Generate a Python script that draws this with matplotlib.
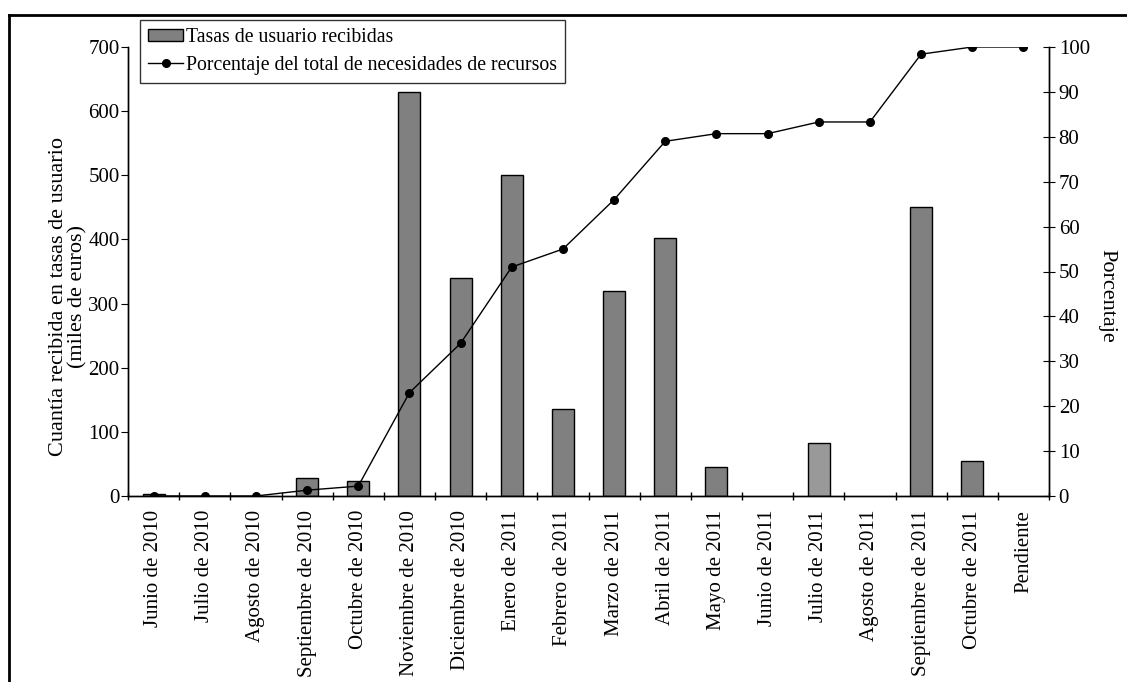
import numpy as np
import matplotlib.pyplot as plt
from matplotlib.lines import Line2D

plt.rcParams['font.family'] = ['Liberation Serif', 'DejaVu Serif']

# data
months = ["Junio de 2010", "Julio de 2010", "Agosto de 2010", "Septiembre de 2010",
          "Octubre de 2010", "Noviembre de 2010", "Diciembre de 2010", "Enero de 2011",
          "Febrero de 2011", "Marzo de 2011", "Abril de 2011", "Mayo de 2011",
          "Junio de 2011", "Julio de 2011", "Agosto de 2011", "Septiembre de 2011",
          "Octubre de 2011", "Pendiente"]
fees = [3, 0, 0, 28, 24, 630, 340, 500, 135, 320, 403, 45, 0, 83, 0, 450, 54, 0]
percent = [0, 0, 0, 1.3, 2.2, 23, 34, 51, 55, 66, 79, 80.7, 80.7, 83.3, 83.3, 98.4, 100, 100]

x = np.arange(len(months))
bar_colors = ['#808080'] * len(months)
bar_colors[13] = '#999999'  # julio 2011 is lighter
edge_w = [1.0 if v > 0 else 0 for v in fees]

fig = plt.figure(figsize=(11.27, 6.82), dpi=100)
ax = fig.add_axes([128 / 1127, 1 - 496 / 682, (1049 - 128) / 1127, (496 - 47) / 682])
ax2 = ax.twinx()

bars = ax.bar(x, fees, width=0.43, color=bar_colors, edgecolor='black', linewidth=edge_w,
              label='Tasas de usuario recibidas', zorder=2)
line, = ax2.plot(x, percent, color='black', marker='o', markersize=5.5, linewidth=1.0,
                 label='Porcentaje del total de necesidades de recursos', zorder=3)

ax.set_xlim(-0.5, len(months) - 0.5)
ax.set_ylim(0, 700)
ax2.set_ylim(0, 100 * (496 - 47) / (496 - 46))

ax.set_yticks(np.arange(0, 701, 100))
ax2.set_yticks(np.arange(0, 101, 10))

ax.set_xticks(x)
ax.set_xticklabels(months, rotation=90, fontsize=15)
ax.set_xticks(np.arange(-0.5, len(months), 1), minor=True)
ax.tick_params(axis='x', which='major', length=0, pad=10)
ax.tick_params(axis='x', which='minor', length=6, direction='inout', width=1)
ax.tick_params(axis='y', labelsize=15, length=5, direction='out', pad=1)
ax2.tick_params(axis='y', labelsize=15, length=8, direction='inout', pad=3)

for a in (ax, ax2):
    a.spines['top'].set_visible(False)
    for s in ('left', 'right', 'bottom'):
        a.spines[s].set_linewidth(1.0)

ax.set_ylabel('Cuantía recibida en tasas de usuario\n(miles de euros)', fontsize=16,
              linespacing=1.0, labelpad=0)
ax.yaxis.set_label_coords(-0.044, 0.445)
ax2.set_ylabel('Porcentaje', fontsize=16, rotation=270, labelpad=20)
ax2.yaxis.set_label_coords(1.073, 0.445)

leg = ax.legend([bars, line], [bars.get_label(), line.get_label()],
                loc='upper left', bbox_to_anchor=(140 / 1127, 1 - 20 / 682),
                bbox_transform=fig.transFigure, fontsize=14.2, frameon=True,
                fancybox=False, edgecolor='black', handlelength=1.8, handleheight=0.5,
                borderpad=0.4, labelspacing=0.45, handletextpad=0.15, borderaxespad=0)
leg.get_frame().set_linewidth(1.0)
leg.set_zorder(5)

# outer frame of the figure (left and top edges visible)
fig.add_artist(Line2D([9 / 1127, 9 / 1127], [0, 1 - 15 / 682], color='black', linewidth=2))
fig.add_artist(Line2D([9 / 1127, 1], [1 - 15 / 682, 1 - 15 / 682], color='black', linewidth=2))

fig.savefig('out.png', dpi=100)
